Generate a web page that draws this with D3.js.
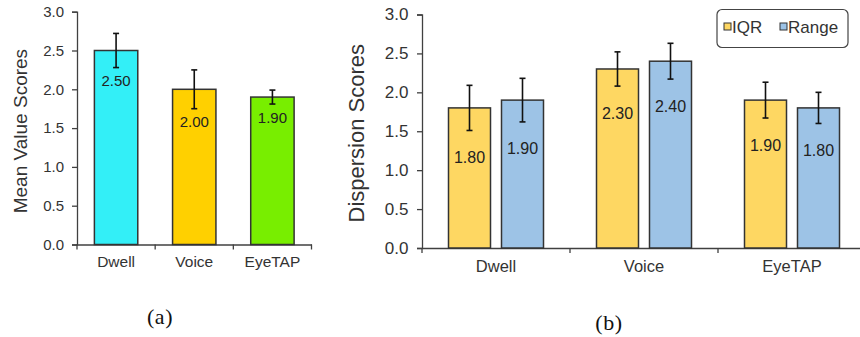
<!DOCTYPE html>
<html>
<head>
<meta charset="utf-8">
<script src="https://cdn.jsdelivr.net/npm/d3@7"></script>
<style>
  html, body { margin: 0; padding: 0; background: #fff; }
  svg { display: block; }
  text { font-family: "Liberation Sans", Arial, sans-serif; }
</style>
</head>
<body>
<svg id="fig" width="860" height="337"></svg>
<script>
// ---- data ----
const categories = ["Dwell", "Voice", "EyeTAP"];
const yTicks = [0, 0.5, 1.0, 1.5, 2.0, 2.5, 3.0];

// (a) mean value per technique, with error bar half-widths
const meanValues = [2.50, 2.00, 1.90];
const meanErrors = [0.22, 0.25, 0.09];

// (b) dispersion scores per technique
const seriesNames = ["IQR", "Range"];
const iqrValues = [1.80, 2.30, 1.90];
const iqrErrors = [0.29, 0.22, 0.23];
const rangeValues = [1.90, 2.40, 1.80];
const rangeErrors = [0.28, 0.23, 0.20];

// ---- styling ----
const meanColors = ["#33eff7", "#ffd000", "#78ee00"];
const seriesColors = ["#fed762", "#9dc3e6"];
const axisColor = "#404040";
const textColor = "#333";
const barStroke = "#333";

const svg = d3.select("#fig");
svg.append("rect").attr("width", 860).attr("height", 337).attr("fill", "#fff");

const fmt = d3.format(".2f");

function drawAxes(g, x, y, st) {
  // y axis
  const yAxis = d3.axisLeft(y).tickValues(yTicks).tickFormat(d3.format(".1f"))
    .tickSize(5).tickPadding(st.yPad);
  const ya = g.append("g").attr("transform", `translate(${x.range()[0]},0)`).call(yAxis);
  ya.select(".domain").attr("stroke", axisColor).attr("stroke-width", 1.3);
  ya.selectAll(".tick line").attr("stroke", axisColor).attr("stroke-width", 1.3);
  ya.selectAll(".tick text").attr("fill", textColor).style("font-size", st.yTick + "px");

  // x axis line with boundary ticks
  const xAxis = d3.axisBottom(x).tickSize(0).tickPadding(st.xPad);
  const xa = g.append("g").attr("transform", `translate(0,${y(0)})`).call(xAxis);
  xa.select(".domain").attr("stroke", axisColor).attr("stroke-width", 1.5);
  xa.selectAll(".tick text").attr("fill", textColor).style("font-size", st.xTick + "px");
  const bounds = categories.map(c => x(c)).concat([x.range()[1]]);
  g.append("g").selectAll("line").data(bounds).join("line")
    .attr("x1", d => d).attr("x2", d => d)
    .attr("y1", y(0)).attr("y2", y(0) + 5)
    .attr("stroke", axisColor).attr("stroke-width", 1.3);
}

function drawErr(g, cx, y, v, e) {
  const cap = 3;
  const gg = g.append("g").attr("stroke", "#111").attr("stroke-width", 1.6);
  gg.append("line").attr("x1", cx).attr("x2", cx).attr("y1", y(v + e)).attr("y2", y(v - e));
  gg.append("line").attr("x1", cx - cap).attr("x2", cx + cap).attr("y1", y(v + e)).attr("y2", y(v + e));
  gg.append("line").attr("x1", cx - cap).attr("x2", cx + cap).attr("y1", y(v - e)).attr("y2", y(v - e));
}

function caption(x, y, s) {
  svg.append("text")
    .attr("x", x).attr("y", y)
    .attr("text-anchor", "middle").attr("dominant-baseline", "central")
    .style("font-family", "'Liberation Serif', 'DejaVu Serif', serif")
    .style("font-size", "22px").style("letter-spacing", "0.6px").attr("fill", "#111")
    .text(s);
}

// ---- (a) mean value scores ----
{
  const st = { yTick: 15, yPad: 8, xTick: 15.5, xPad: 11, value: 15, title: 19 };
  const g = svg.append("g");
  const x = d3.scaleBand().domain(categories).range([77, 311.5]).padding(0);
  const y = d3.scaleLinear().domain([0, 3]).range([244.5, 11.7]);
  const bw = x.bandwidth() * 0.555;

  drawAxes(g, x, y, st);

  categories.forEach((c, i) => {
    const cx = x(c) + x.bandwidth() / 2;
    g.append("rect")
      .attr("x", cx - bw / 2).attr("y", y(meanValues[i]))
      .attr("width", bw).attr("height", y(0) - y(meanValues[i]))
      .attr("fill", meanColors[i]).attr("stroke", barStroke).attr("stroke-width", 1.5);
    drawErr(g, cx, y, meanValues[i], meanErrors[i]);
    g.append("text")
      .attr("x", cx).attr("y", y(meanValues[i] - meanErrors[i]) + 13)
      .attr("text-anchor", "middle").attr("dominant-baseline", "central")
      .attr("fill", "#222").style("font-size", st.value + "px")
      .text(fmt(meanValues[i]));
  });

  g.append("text")
    .attr("transform", `translate(20,${(y(0) + y(3)) / 2 + 3}) rotate(-90)`)
    .attr("text-anchor", "middle").attr("dominant-baseline", "central")
    .attr("fill", textColor).style("font-size", st.title + "px")
    .text("Mean Value Scores");

  caption(160, 316, "(a)");
}

// ---- (b) dispersion scores ----
{
  const st = { yTick: 17, yPad: 8.5, xTick: 16.5, xPad: 12.5, value: 16, title: 22 };
  const g = svg.append("g");
  const x = d3.scaleBand().domain(categories).range([422, 866]).padding(0);
  const x1 = d3.scaleBand().domain(seriesNames).range([0, x.bandwidth()])
    .paddingInner(0.2075).paddingOuter(0.5);
  const y = d3.scaleLinear().domain([0, 3]).range([248, 14.5]);

  drawAxes(g, x, y, st);

  const values = [iqrValues, rangeValues];
  const errors = [iqrErrors, rangeErrors];

  categories.forEach((c, i) => {
    seriesNames.forEach((s, k) => {
      const v = values[k][i], e = errors[k][i];
      const bx = x(c) + x1(s);
      const cx = bx + x1.bandwidth() / 2;
      g.append("rect")
        .attr("x", bx).attr("y", y(v))
        .attr("width", x1.bandwidth()).attr("height", y(0) - y(v))
        .attr("fill", seriesColors[k]).attr("stroke", barStroke).attr("stroke-width", 1.5);
      drawErr(g, cx, y, v, e);
      g.append("text")
        .attr("x", cx).attr("y", y(v - e) + 27)
        .attr("text-anchor", "middle").attr("dominant-baseline", "central")
        .attr("fill", "#222").style("font-size", st.value + "px")
        .text(fmt(v));
    });
  });

  g.append("text")
    .attr("transform", `translate(356,${(y(0) + y(3)) / 2 + 2}) rotate(-90)`)
    .attr("text-anchor", "middle").attr("dominant-baseline", "central")
    .attr("fill", textColor).style("font-size", st.title + "px")
    .text("Dispersion Scores");

  // legend
  const lg = g.append("g");
  lg.append("rect")
    .attr("x", 717).attr("y", 9.5).attr("width", 131).attr("height", 38).attr("rx", 5)
    .attr("fill", "#fff").attr("stroke", "#444").attr("stroke-width", 1.2);
  const items = lg.selectAll("g.item").data(seriesNames).join("g")
    .attr("transform", (d, k) => `translate(${k === 0 ? 724 : 780},0)`);
  items.append("rect")
    .attr("x", 0).attr("y", 23).attr("width", 7).attr("height", 7)
    .attr("fill", (d, k) => seriesColors[k]).attr("stroke", "#333").attr("stroke-width", 1);
  items.append("text")
    .attr("x", 8).attr("y", 27).attr("dominant-baseline", "central")
    .attr("fill", textColor).style("font-size", "17px")
    .text(d => d);

  caption(609, 322, "(b)");
}
</script>
</body>
</html>
